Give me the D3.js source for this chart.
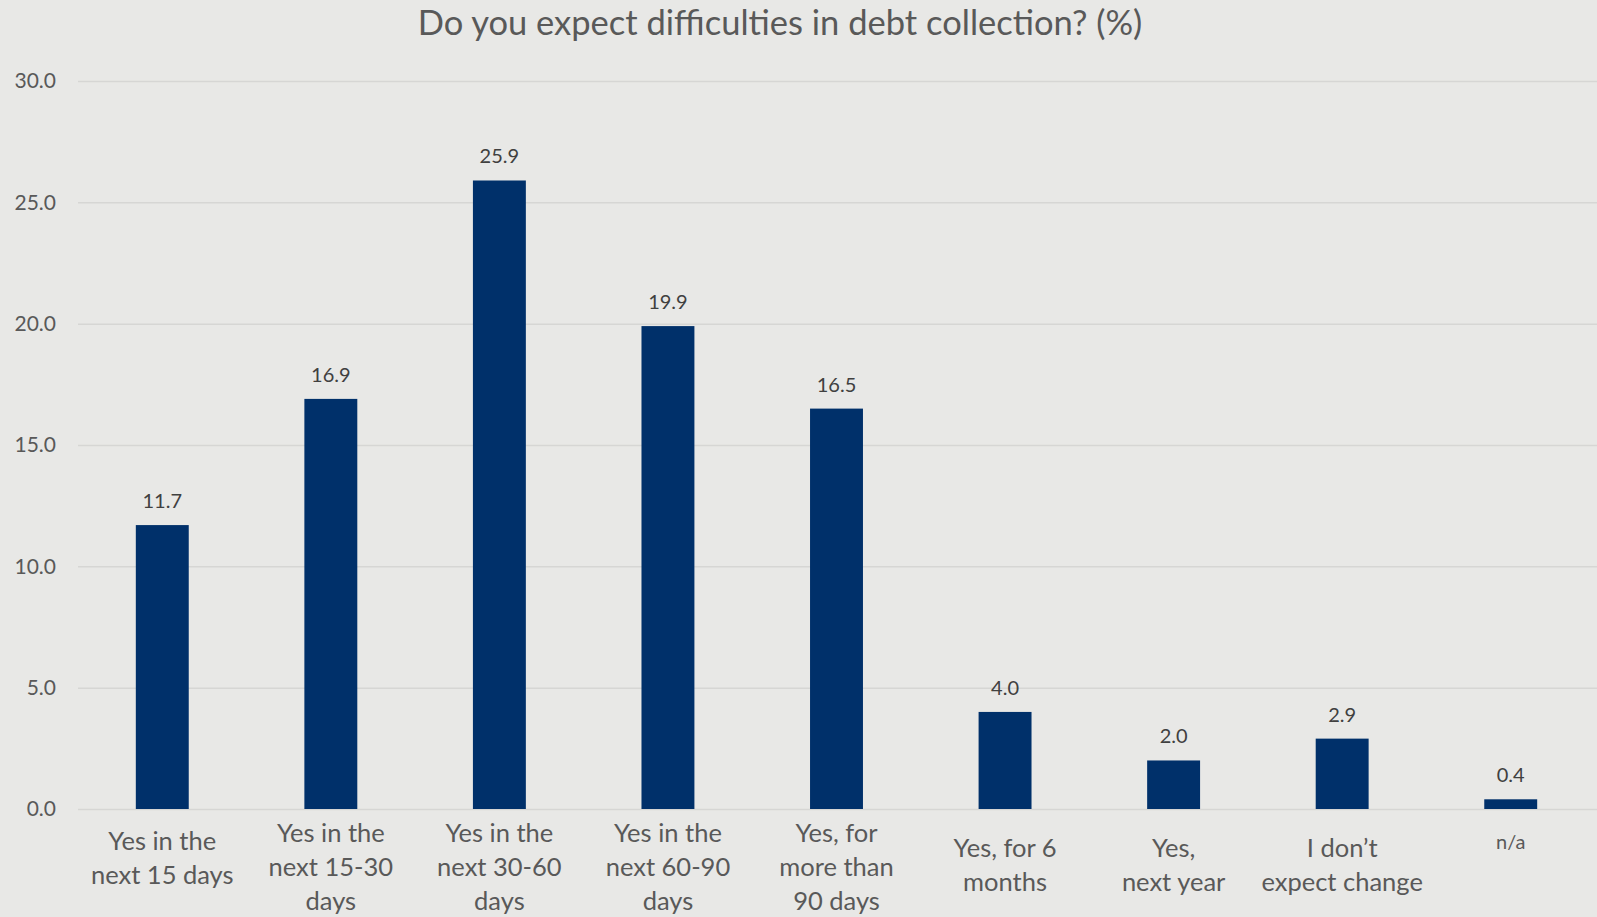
<!DOCTYPE html>
<html>
<head>
    <meta charset="utf-8">
    <title>Do you expect difficulties in debt collection? (%)</title>
    <script src="https://d3js.org/d3.v7.min.js"></script>
    <style>
        body { margin: 0; background: #e8e8e6; }
        text { font-family: "Lato", "Open Sans", sans-serif; }
    </style>
</head>
<body>
    <div id="chart"></div>
    <script>

        // data
        var categories = ["c1", "c2", "c3", "c4", "c5", "c6", "c7", "c8", "c9"];
        var labelLines = [
            ["Yes in the", "next 15 days"],
            ["Yes in the", "next 15-30", "days"],
            ["Yes in the", "next 30-60", "days"],
            ["Yes in the", "next 60-90", "days"],
            ["Yes, for", "more than", "90 days"],
            ["Yes, for 6", "months"],
            ["Yes,", "next year"],
            ["I don\u2019t", "expect change"],
            ["n/a"]
        ];
        var values = [11.7, 16.9, 25.9, 19.9, 16.5, 4.0, 2.0, 2.9, 0.4];
        var yTicks = [0, 5, 10, 15, 20, 25, 30];

        var width = 1597, height = 917;
        var margin = {top: 81, right: 2, bottom: 108, left: 78};

        var svg = d3.select("#chart")
                    .append("svg")
                    .attr("width", width)
                    .attr("height", height)
                    .style("display", "block")
                    .style("background", "#e8e8e6");

        var x = d3.scaleBand()
                  .domain(categories)
                  .range([margin.left, width - margin.right])
                  .paddingInner(0.686)
                  .paddingOuter(0.343);

        var y = d3.scaleLinear()
                  .domain([0, 30])
                  .range([height - margin.bottom, margin.top]);

        // gridlines + y labels
        var yAxis = svg.append("g")
            .attr("transform", "translate(" + margin.left + ",0)")
            .call(d3.axisLeft(y)
                .tickValues(yTicks)
                .tickSize(-(width - margin.left))
                .tickPadding(22)
                .tickFormat(d3.format(".1f")));
        yAxis.select(".domain").remove();
        yAxis.selectAll(".tick line")
            .attr("stroke", "#d6d6d4")
            .attr("stroke-width", 1.5);
        yAxis.selectAll(".tick text")
            .attr("fill", "#595959")
            .style("font-size", "21px");

        // bars
        svg.selectAll(".bar")
            .data(values)
            .enter()
            .append("rect")
            .attr("class", "bar")
            .attr("x", function(d, i) { return x(categories[i]); })
            .attr("y", function(d) { return y(d); })
            .attr("width", x.bandwidth())
            .attr("height", function(d) { return y(0) - y(d); })
            .attr("fill", "#00306a");

        // value labels
        svg.selectAll(".val")
            .data(values)
            .enter()
            .append("text")
            .attr("class", "val")
            .attr("x", function(d, i) { return x(categories[i]) + x.bandwidth() / 2; })
            .attr("y", function(d) { return y(d) - 17; })
            .attr("text-anchor", "middle")
            .attr("fill", "#404040")
            .style("font-size", "20px")
            .text(function(d) { return d3.format(".1f")(d); });

        // category labels (wrapped)
        var lineH = 34;
        labelLines.forEach(function(lines, i) {
            var cx = x(categories[i]) + x.bandwidth() / 2;
            var top = 858 - (lines.length - 1) * 8;
            if (i >= 5 && i <= 7) top = 857;
            if (i == 8) top = 849;
            var t = svg.append("text")
                .attr("text-anchor", "middle")
                .attr("fill", "#595959")
                .style("font-size", i == 8 ? "20px" : "25.5px");
            lines.forEach(function(s, j) {
                t.append("tspan")
                    .attr("x", cx)
                    .attr("y", top + j * lineH)
                    .text(s);
            });
        });

        // title
        svg.append("text")
            .attr("x", 780)
            .attr("y", 35)
            .attr("text-anchor", "middle")
            .attr("fill", "#595959")
            .style("font-size", "34.5px")
            .text("Do you expect difficulties in debt collection? (%)");

    </script>
</body>
</html>
